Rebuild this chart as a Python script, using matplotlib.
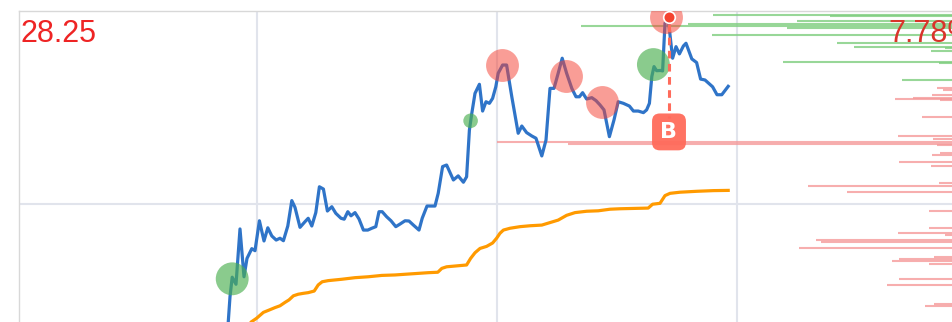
import numpy as np
import matplotlib
matplotlib.use('Agg')
import matplotlib.pyplot as plt

# linea de precio (azul)
dias = [52.5, 53.25, 53.8, 54.75, 55.75, 56.75, 57.5, 58.7, 59.5, 60.6, 61.75, 62.7, 63.7, 64.8, 65.75, 66.6,
        67.7, 68.7, 69.5, 70.75, 72.0, 72.8, 73.7, 74.7, 75.6, 76.6, 77.6, 78.7, 79.7, 81.0, 81.8, 82.7, 83.5,
        84.5, 85.5, 86.6, 87.7, 88.7, 89.7, 90.5, 91.3, 92.4, 93.5, 94.7, 95.8, 97.0, 98.0, 99.1, 100.5, 101.3,
        102.5, 103.7, 104.5, 105.3, 106.4, 107.4, 109.1, 110.3, 111.6, 112.4, 113.1, 113.7, 114.5, 115.6, 116.4,
        117.25, 118.1, 118.9, 119.7, 120.3, 121.4, 122.4, 123.7, 125.3, 126.2, 127.4, 128.7, 129.75, 131.2,
        132.25, 133.25, 134.25, 135.3, 136.3, 137.4, 138.7, 139.75, 140.6, 141.4, 142.4, 143.7, 144.75, 145.75,
        146.75, 148.1, 149.25, 150.3, 151.6, 153.1, 154.1, 155.3, 156.6, 157.4, 158.1, 158.7, 159.25, 159.9,
        160.9, 161.4, 162.0, 162.75, 163.9, 164.75, 165.6, 166.6, 167.25, 168.7, 169.9, 170.9, 172.0, 173.9,
        175.0, 176.2, 177.8]
precio = [14.0, 15.91, 16.77, 16.46, 18.90, 16.79, 17.60, 18.03, 17.94, 19.26, 18.37, 18.95, 18.59, 18.41, 18.49,
          18.38, 19.03, 20.15, 19.85, 18.97, 19.22, 19.37, 19.03, 19.62, 20.76, 20.66, 19.69, 19.88, 19.59, 19.37,
          19.33, 19.66, 19.48, 19.62, 19.34, 18.85, 18.85, 18.93, 19.0, 19.66, 19.66, 19.44, 19.26, 19.0, 19.12,
          19.26, 19.25, 19.07, 18.85, 19.37, 19.91, 19.91, 19.91, 20.47, 21.65, 21.72, 21.06, 21.24, 20.96, 21.20,
          23.26, 24.0, 24.88, 25.28, 24.10, 24.51, 24.44, 24.66, 25.17, 25.77, 26.13, 26.13, 24.73, 23.12, 23.44,
          23.15, 23.0, 22.90, 22.12, 22.82, 25.10, 25.10, 25.77, 26.43, 25.77, 25.10, 24.73, 24.73, 24.91, 24.63,
          24.69, 24.56, 24.37, 24.15, 22.97, 23.71, 24.51, 24.44, 24.32, 24.10, 24.10, 24.03, 24.15, 24.44, 25.62,
          26.06, 25.88, 25.89, 25.87, 27.97, 28.25, 26.43, 26.94, 26.62, 26.97, 27.09, 26.40, 26.24, 25.51, 25.47,
          25.17, 24.82, 24.82, 25.19]

# linea naranja
dias_n = [57.5, 58.5, 59.9, 61.6, 63.0, 64.5, 65.75, 67.0, 68.0, 69.1, 70.3, 71.6, 72.8, 74.3, 75.3, 76.3, 77.8,
          81.2, 84.5, 87.8, 91.2, 94.5, 97.8, 99.5, 102.8, 105.2, 106.2, 107.4, 112.4, 113.4, 114.5, 115.75, 117.4,
          118.9, 119.9, 120.75, 121.6, 123.25, 125.75, 128.25, 131.2, 133.25, 135.3, 137.4, 139.5, 142.4, 145.3,
          148.25, 150.75, 157.8, 158.9, 160.75, 162.0, 163.25, 165.75, 169.9, 174.1, 177.8]
naranja = [14.44, 14.79, 14.96, 15.22, 15.32, 15.43, 15.51, 15.66, 15.77, 15.95, 16.02, 16.06, 16.09, 16.16, 16.43,
           16.57, 16.62, 16.68, 16.75, 16.79, 16.85, 16.87, 16.91, 16.93, 16.97, 16.99, 17.16, 17.23, 17.31, 17.60,
           17.85, 18.04, 18.13, 18.28, 18.49, 18.71, 18.85, 18.93, 19.0, 19.04, 19.07, 19.18, 19.29, 19.50, 19.62,
           19.68, 19.70, 19.77, 19.79, 19.82, 19.99, 20.03, 20.37, 20.47, 20.52, 20.56, 20.59, 20.60]

# señales
compra_x = [53.8, 113.4, 159.1]
compra_y = [16.70, 23.67, 26.15]
compra_grande = [True, False, True]
venta_x = [121.3, 137.25, 146.2, 162.2]
venta_y = [26.13, 25.65, 24.51, 28.25]
pico_x = 163.0
pico_y = 28.25
b_y = 23.18

# perfil de volumen (inicio de cada linea, nivel)
verde_ini = [174.0, 203.25, 195.0, 167.75, 141.0, 192.5, 173.75, 205.0, 209.25, 232.0, 228.5, 191.5, 230.5, 221.25]
verde_niv = [28.34, 28.29, 28.09, 27.94, 27.85, 27.76, 27.45, 27.12, 26.94, 26.87, 26.76, 26.28, 26.23, 25.47]
rojo_ini = [230.0, 231.5, 228.75, 224.0, 219.5, 230.75, 226.25, 220.25, 229.0, 120.0, 137.75, 230.0, 230.75, 228.75,
            220.5, 228.5, 230.5, 197.75, 207.5, 228.0, 228.0, 220.25, 232.0, 199.75, 201.0, 195.5, 229.25, 220.5,
            218.75, 228.0, 220.5, 217.5, 229.25, 227.0]
rojo_niv = [25.10, 25.03, 24.81, 24.69, 24.63, 24.59, 23.82, 23.0, 22.85, 22.75, 22.66, 22.60, 22.24, 22.17, 21.84,
            21.69, 20.94, 20.78, 20.53, 19.70, 18.95, 18.72, 18.65, 18.41, 18.34, 18.07, 17.65, 17.57, 17.50, 17.34,
            16.68, 16.43, 15.59, 15.51]

texto_izq = '28.25'
texto_der = '7.78%'

fig = plt.figure(figsize=(9.52, 3.22), dpi=100)
ax = fig.add_axes([19/952, 0, 933/952, 311/322])
x_max = 240

ax.set_xticks([60, 120, 180])
ax.set_yticks([20])
ax.set_xlim(0.5, 233.75)
ax.set_ylim(14.795, 28.513)
ax.tick_params(length=0, labelleft=False, labelbottom=False)
ax.grid(True, color='#e1e4ec', lw=1.5, zorder=0)
ax.set_axisbelow(True)
for s in ['right', 'bottom']:
    ax.spines[s].set_visible(False)
for s in ['left', 'top']:
    ax.spines[s].set_color('#d8d8d8')
    ax.spines[s].set_linewidth(1.0)

fig.text(20/952, 1 - 42/322, texto_izq, color='#ee2424', fontsize=22, family='Liberation Sans', va='baseline')

ax.hlines(verde_niv, verde_ini, x_max, colors='#7fce7f', lw=1.5, alpha=0.8, zorder=2)
ax.hlines(rojo_niv, rojo_ini, x_max, colors='#f59a9a', lw=1.5, alpha=0.8, zorder=2)

ax.text(888/952, 1 - 42/322, texto_der, color='#d9342a', fontsize=22, family='Liberation Sans', va='baseline',
        transform=fig.transFigure, zorder=2.5)

ax.plot(dias_n, naranja, color='#ff9a00', lw=2.3, zorder=3, solid_joinstyle='round')
ax.plot(dias, precio, color='#2f74c8', lw=2.3, zorder=4, solid_joinstyle='round')

tam = [560 if g else 110 for g in compra_grande]
ax.scatter(compra_x, compra_y, s=tam, color='#4caf50', alpha=0.65, lw=0, zorder=5)
ax.scatter(venta_x, venta_y, s=560, color='#f44336', alpha=0.52, lw=0, zorder=5)

ax.plot([pico_x, pico_x], [27.95, b_y + 0.6], color='#ff6b5b', lw=2.2, ls=(0, (2.5, 1.8)), zorder=6)
ax.scatter([pico_x], [pico_y], s=70, color='#f4432f', edgecolors='white', lw=1.2, zorder=7)
ax.text(pico_x, b_y, 'B', color='white', fontsize=16, fontweight='bold', family='DejaVu Sans',
        ha='center', va='center', zorder=7,
        bbox=dict(boxstyle='round,pad=0.38,rounding_size=0.35', fc='#ff6b5b', ec='none', alpha=0.95))

plt.savefig('out.png', dpi=100)
